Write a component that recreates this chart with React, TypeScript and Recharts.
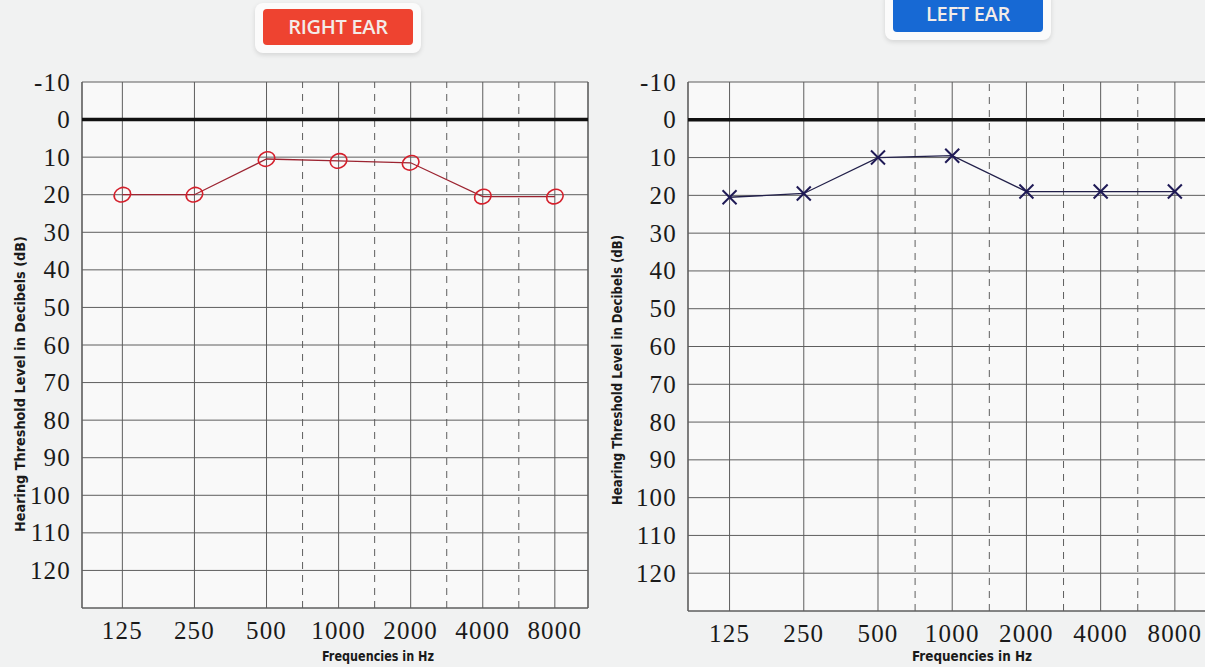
import React from 'react';
import { LineChart, Line, XAxis, YAxis, CartesianGrid, ReferenceLine, Label } from 'recharts';

// ---- data ----
const frequencies = [125, 250, 500, 1000, 2000, 4000, 8000];
const freqLabels = ['125', '250', '500', '1000', '2000', '4000', '8000'];
// intermediate (dashed) frequencies, drawn midway between their neighbouring octaves
const halfOctaves = [750, 1500, 3000, 6000];
const halfOctaveNeighbours = [[500, 1000], [1000, 2000], [2000, 4000], [4000, 8000]];
const rightEar = [20, 20, 10.5, 11, 11.5, 20.5, 20.5];
const leftEar = [20.5, 19.5, 10, 9.5, 19, 19, 19];
const dbTicks = [-10, 0, 10, 20, 30, 40, 50, 60, 70, 80, 90, 100, 110, 120];
const dbMin = -10;
const dbMax = 130;
const octMin = -0.56;
const octMax = 6.46;

const oct = (f: number) => Math.log2(f / 125);
const octTicks = frequencies.map(oct);

const serif = '"Liberation Serif", "Times New Roman", serif';
const condensed = '"DejaVu Sans Condensed", "DejaVu Sans", sans-serif';

const CircleDot = (props: any) => {
  const { cx, cy } = props;
  if (cx == null || cy == null) return null;
  return (
    <ellipse cx={cx} cy={cy} rx={8.5} ry={7} fill="none" stroke="#d4202c" strokeWidth={1.6}
      transform={`rotate(-25 ${cx} ${cy})`} />
  );
};

const CrossDot = (props: any) => {
  const { cx, cy } = props;
  if (cx == null || cy == null) return null;
  const s = 7;
  return (
    <g stroke="#1f1a56" strokeWidth={2} fill="none">
      <line x1={cx - s} y1={cy - s} x2={cx + s} y2={cy + s} />
      <line x1={cx - s} y1={cy + s} x2={cx + s} y2={cy - s} />
    </g>
  );
};

type EarProps = {
  values: number[];
  width: number;
  marginBottom: number;
  lineColor: string;
  dot: any;
  yTitleX: number;
  yTitleY: number;
  yTitleLen: number;
  xTitleX: number;
  xTitleLen: number;
};

const EarChart = ({ values, width, marginBottom, lineColor, dot, yTitleX, yTitleY, yTitleLen, xTitleX, xTitleLen }: EarProps) => {
  const data = frequencies.map((f, i) => ({ x: oct(f), db: values[i] }));
  const XTick = (p: any) => {
    const idx = octTicks.findIndex((t) => Math.abs(t - p.payload.value) < 1e-6);
    return (
      <text x={p.x} y={p.y + 31} textAnchor="middle" fontFamily={serif} fontSize={25} letterSpacing={1.2} fill="#1a1a1a">
        {idx >= 0 ? freqLabels[idx] : ''}
      </text>
    );
  };
  const YTick = (p: any) => (
    <text x={p.x - 11} y={p.y} dy="0.34em" textAnchor="end" fontFamily={serif} fontSize={25} letterSpacing={1.2} fill="#1a1a1a">
      {p.payload.value}
    </text>
  );
  return (
    <LineChart width={width} height={667} data={data} margin={{ top: 82, right: 4, bottom: marginBottom, left: 0 }}>
      <CartesianGrid stroke="#5e5e5e" strokeWidth={1} fill="#f9f9f9" />
      <XAxis type="number" dataKey="x" domain={[octMin, octMax]} ticks={octTicks} allowDataOverflow
        axisLine={false} tickLine={false} tickSize={0} tickMargin={0} height={40} tick={XTick} interval={0}>
        <Label content={() => (
          <text x={xTitleX} y={661} textAnchor="middle" fontFamily={condensed} fontWeight="bold"
            fontSize={14} fill="#1a1a1a" textLength={xTitleLen} lengthAdjust="spacingAndGlyphs">
            Frequencies in Hz
          </text>
        )} />
      </XAxis>
      <YAxis type="number" dataKey="db" domain={[dbMin, dbMax]} reversed ticks={dbTicks} allowDataOverflow
        axisLine={false} tickLine={false} tickSize={0} tickMargin={0} width={82} tick={YTick} interval={0}>
        <Label content={() => (
          <text x={yTitleX} y={yTitleY} textAnchor="middle" fontFamily={condensed} fontWeight="bold"
            fontSize={14} fill="#1a1a1a" transform={`rotate(-90 ${yTitleX} ${yTitleY})`}
            dominantBaseline="central" textLength={yTitleLen} lengthAdjust="spacingAndGlyphs">
            Hearing Threshold Level in Decibels (dB)
          </text>
        )} />
      </YAxis>
      {halfOctaves.map((f, i) => (
        <ReferenceLine key={f}
          x={(oct(halfOctaveNeighbours[i][0]) + oct(halfOctaveNeighbours[i][1])) / 2}
          stroke="#5e5e5e" strokeWidth={1} strokeDasharray="7 6" />
      ))}
      <ReferenceLine x={octMin} stroke="#5e5e5e" strokeWidth={1.2} />
      <ReferenceLine x={octMax} stroke="#5e5e5e" strokeWidth={1.2} />
      <ReferenceLine y={dbMax} stroke="#5e5e5e" strokeWidth={1.2} />
      <ReferenceLine y={0} stroke="#111111" strokeWidth={3.5} />
      <Line type="linear" dataKey="db" stroke={lineColor} strokeWidth={1.3} dot={dot}
        activeDot={false} isAnimationActive={false} />
    </LineChart>
  );
};

const Badge = ({ text, bg, left, top, w, h }: { text: string; bg: string; left: number; top: number; w: number; h: number }) => (
  <div style={{
    position: 'absolute', left: left - 8, top: top - 6, width: w + 16, height: h + 14,
    background: '#fbfbfb', borderRadius: 8, boxShadow: '0 2px 5px rgba(0,0,0,0.12)'
  }}>
    <div style={{
      position: 'absolute', left: 8, top: 6, width: w, height: h, background: bg, borderRadius: 4,
      color: '#f3ece8', fontFamily: '"Open Sans", sans-serif', fontSize: 20, fontWeight: 600, lineHeight: `${h}px`,
      textAlign: 'center', letterSpacing: -0.3
    }}>{text}</div>
  </div>
);

export default function App() {
  return (
    <div style={{ position: 'fixed', left: 0, top: 0, width: 1205, height: 667, overflow: 'hidden', background: '#f1f2f2' }}>
      <div style={{ position: 'absolute', left: 0, top: 0 }}>
        <EarChart values={rightEar} width={592} marginBottom={19} lineColor="#9c2431" dot={<CircleDot />}
          yTitleX={20} yTitleY={384} yTitleLen={296} xTitleX={378} xTitleLen={112} />
      </div>
      <div style={{ position: 'absolute', left: 606, top: 0 }}>
        <EarChart values={leftEar} width={607} marginBottom={16} lineColor="#22204a" dot={<CrossDot />}
          yTitleX={11} yTitleY={370} yTitleLen={270} xTitleX={366} xTitleLen={120} />
      </div>
      <Badge text="RIGHT EAR" bg="#ee4330" left={263} top={9} w={150} h={36} />
      <Badge text="LEFT EAR" bg="#1769d4" left={893} top={-4} w={150} h={36} />
    </div>
  );
}
